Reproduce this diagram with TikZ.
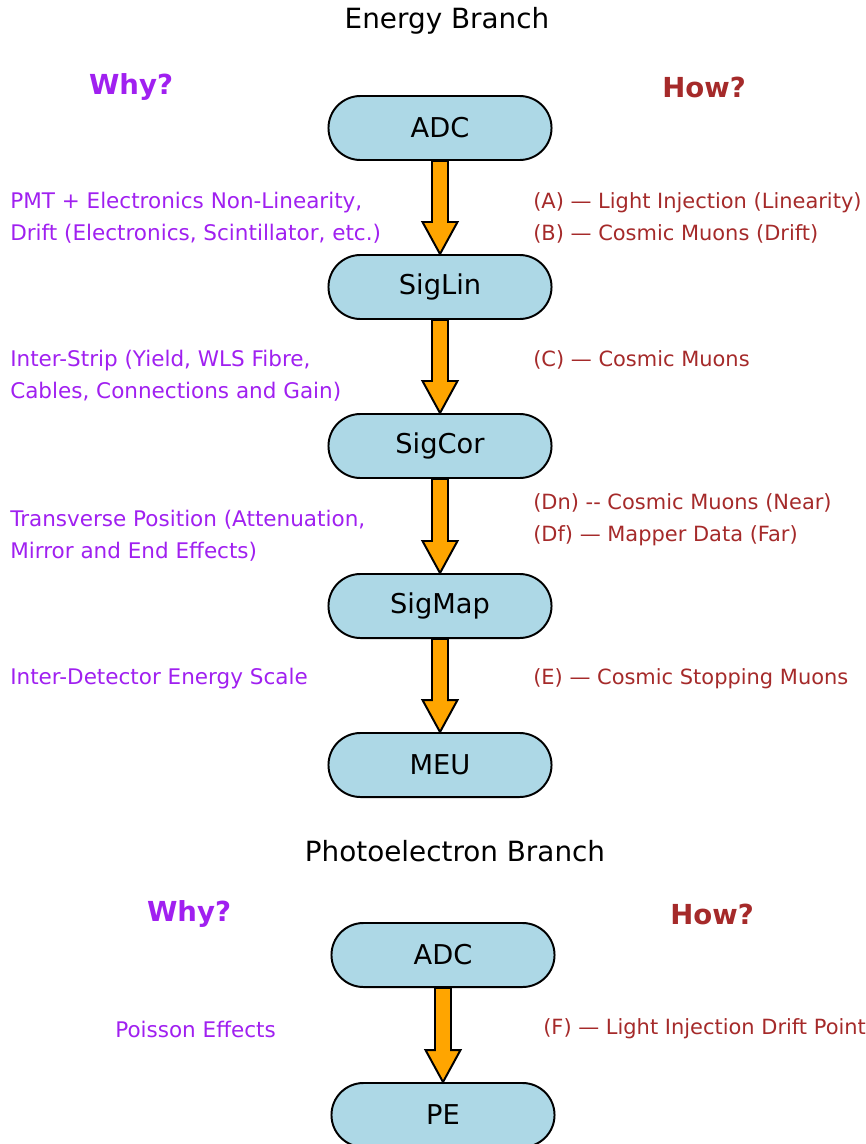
\documentclass[tikz,border=0pt]{standalone}
\usepackage{fontspec}
\setmainfont{DejaVu Sans}
\usetikzlibrary{calc}

\definecolor{whycol}{RGB}{160,32,240}
\definecolor{howcol}{RGB}{165,42,42}
\definecolor{stagefill}{RGB}{173,216,230}
\definecolor{flowfill}{RGB}{255,165,0}

% fat outlined arrow from one stage to the next
\newcommand{\fatarrow}[2]{%
  \filldraw[fill=flowfill,draw=black,line width=1.4pt]
    ($(#1.south)+(-8,0)$) -- ($(#2.north)+(-8,-32)$) -- ($(#2.north)+(-17.5,-32)$)
    -- (#2.north) -- ($(#2.north)+(17.5,-32)$) -- ($(#2.north)+(8,-32)$)
    -- ($(#1.south)+(8,0)$) -- cycle;}

\begin{document}
\begin{tikzpicture}[x=0.025cm,y=-0.025cm,
    stage/.style={
      draw=black,
      fill=stagefill,
      line width=1.4pt,
      rounded corners=0.8cm,
      minimum width=5.575cm,
      minimum height=1.6cm,
      font=\fontsize{19.4}{20}\selectfont
    },
    branch/.style={font=\fontsize{19.8}{20}\selectfont},
    why/.style={font=\bfseries\fontsize{19.6}{20}\selectfont,text=whycol},
    how/.style={font=\bfseries\fontsize{19.6}{20}\selectfont,text=howcol},
    reason/.style={font=\fontsize{15.3}{22.7}\selectfont,text=whycol,align=left,anchor=west,inner sep=0pt},
    method/.style={font=\fontsize{14.9}{22.7}\selectfont,text=howcol,align=left,anchor=west,inner sep=0pt}
  ]
    \useasboundingbox (0,0) rectangle (866,1144);

    % energy branch
    \node[branch] (etitle) at (447,21) {Energy Branch};
    \node[why] (ewhy) at (131,87) {Why?};
    \node[how] (ehow) at (704,87) {How?};

    \foreach \name/\txt/\y in {adc/ADC/128,siglin/SigLin/287,sigcor/SigCor/446,sigmap/SigMap/606,meu/MEU/765} {
      \node[stage] (\name) at (440,\y) {\txt};
    }
    \foreach \a/\b in {adc/siglin,siglin/sigcor,sigcor/sigmap,sigmap/meu} {
      \fatarrow{\a}{\b}
    }

    \node[reason] (r1) at (10,218) {PMT + Electronics Non-Linearity,\\Drift (Electronics, Scintillator, etc.)};
    \node[reason] (r2) at (10,376) {Inter-Strip (Yield, WLS Fibre,\\Cables, Connections and Gain)};
    \node[reason] (r3) at (10,536) {Transverse Position (Attenuation,\\Mirror and End Effects)};
    \node[reason] (r4) at (10,679) {Inter-Detector Energy Scale};

    \node[method] (m1) at (533,218) {(A) — Light Injection (Linearity)\\(B) — Cosmic Muons (Drift)};
    \node[method] (m2) at (533,360) {(C) — Cosmic Muons};
    \node[method] (m3) at (533,520) {(Dn) -{}- Cosmic Muons (Near)\\(Df) — Mapper Data (Far)};
    \node[method] (m4) at (533,679) {(E) — Cosmic Stopping Muons};

    % photoelectron branch
    \node[branch] (ptitle) at (455,851) {Photoelectron Branch};
    \node[why] (pwhy) at (189,914) {Why?};
    \node[how] (phow) at (712,914) {How?};

    \node[stage] (padc) at (443,955) {ADC};
    \node[stage] (pe) at (443,1115) {PE};
    \fatarrow{padc}{pe}

    \node[reason] (r5) at (115,1029) {Poisson Effects};
    \node[method] (m5) at (543,1029) {(F) — Light Injection Drift Point};
\end{tikzpicture}
\end{document}
